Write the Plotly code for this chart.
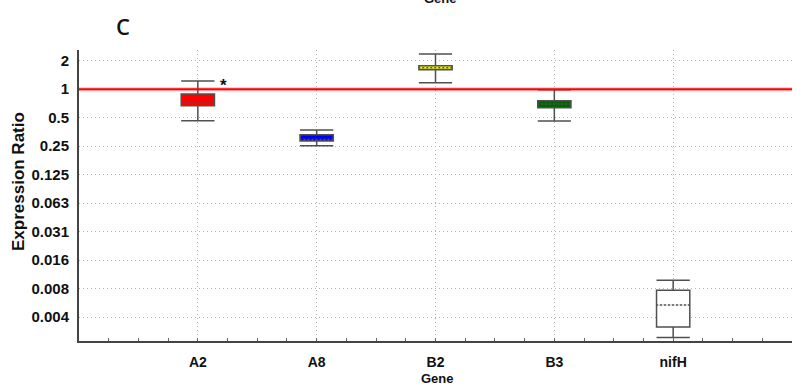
import math
import plotly.graph_objects as go

# Relative expression ratios per gene (box summary statistics)
genes = ["A2", "A8", "B2", "B3", "nifH"]
lower_whisker = [0.464, 0.252, 1.172, 0.461, 0.00237]
q1_values = [0.669, 0.283, 1.609, 0.637, 0.00306]
median_values = [0.709, 0.295, 1.689, 0.697, 0.00524]
q3_values = [0.889, 0.330, 1.773, 0.756, 0.00749]
upper_whisker = [1.221, 0.370, 2.360, 0.990, 0.00957]
box_colors = ["#ff0000", "#0000ff", "#ffff00", "#006400", "#ffffff"]

# Log2-spaced y ticks
y_tick_values = [2, 1, 0.5, 0.25, 0.125, 0.0625, 0.03125, 0.015625, 0.0078125, 0.00390625]
y_tick_labels = ["2", "1", "0.5", "0.25", "0.125", "0.063", "0.031", "0.016", "0.008", "0.004"]
reference_ratio = 1.0
significant = ["A2"]

FONT = "Liberation Sans, Arial, sans-serif"
BOX_W = 0.28
PLOT_L, PLOT_T, PLOT_W, PLOT_H = 79, 50, 713, 291


def paper_x(px):
    return (px - PLOT_L) / PLOT_W


def paper_y(py):
    return (PLOT_T + PLOT_H - py) / PLOT_H


fig = go.Figure()

for i, g in enumerate(genes):
    fig.add_trace(go.Box(
        x=[i], q1=[q1_values[i]], median=[median_values[i]], q3=[q3_values[i]],
        lowerfence=[lower_whisker[i]], upperfence=[upper_whisker[i]],
        fillcolor=box_colors[i], line=dict(color="#505050", width=1.5),
        width=BOX_W, whiskerwidth=1, boxpoints=False, name=g, showlegend=False,
        hoverinfo="skip",
    ))
    # break the median into a dotted line by masking alternate segments with the fill colour
    fig.add_trace(go.Scatter(
        x=[i - BOX_W / 2 + 0.012, i + BOX_W / 2 - 0.012],
        y=[median_values[i], median_values[i]], mode="lines",
        line=dict(color=box_colors[i], width=1.6, dash="2px,2px"),
        showlegend=False, hoverinfo="skip",
    ))

# reference line at ratio = 1
fig.add_trace(go.Scatter(x=[-1, 5], y=[reference_ratio, reference_ratio], mode="lines",
                         line=dict(color="rgba(255,0,0,0.2)", width=4.5),
                         showlegend=False, hoverinfo="skip"))
fig.add_trace(go.Scatter(x=[-1, 5], y=[reference_ratio, reference_ratio], mode="lines",
                         line=dict(color="#ff0000", width=2),
                         showlegend=False, hoverinfo="skip"))

# significance markers
for g in significant:
    i = genes.index(g)
    fig.add_annotation(x=i, y=math.log10(upper_whisker[i]), text="*", showarrow=False,
                       xshift=26, yshift=-4, font=dict(family=FONT, size=17, color="#111",
                                                       weight="bold"))

fig.add_annotation(xref="paper", yref="paper", x=paper_x(114), y=paper_y(25.5),
                   xanchor="left", yanchor="middle", text="C", showarrow=False,
                   font=dict(family="Open Sans, DejaVu Sans, sans-serif", size=22, color="#111",
                             weight=600))
# axis title of the panel above, partly cut by the top edge
fig.add_annotation(xref="paper", yref="paper", x=paper_x(440), y=paper_y(7.5),
                   xanchor="center", yanchor="bottom", text="Gene", showarrow=False,
                   font=dict(family=FONT, size=13, color="#111", weight="bold"))
fig.add_annotation(xref="paper", yref="paper", x=paper_x(18), y=paper_y(182),
                   xanchor="center", yanchor="middle", text="Expression Ratio", textangle=-90,
                   showarrow=False, font=dict(family=FONT, size=17, color="#111", weight="bold"))
fig.add_annotation(xref="paper", yref="paper", x=paper_x(437), y=paper_y(378),
                   xanchor="center", yanchor="middle", text="Gene", showarrow=False,
                   font=dict(family=FONT, size=13, color="#111", weight="bold"))

fig.update_xaxes(
    range=[-1, 5], tickvals=list(range(len(genes))), ticktext=genes,
    showline=True, linecolor="#444", linewidth=2, mirror=False,
    ticks="inside", ticklen=3, tickcolor="#666", ticklabelstandoff=7,
    showgrid=True, gridcolor="#b4b4b4", griddash="1px,3px", gridwidth=1,
    minor=dict(dtick=0.25, tick0=0, ticks="inside", ticklen=3, tickcolor="#666", showgrid=False),
    zeroline=False, tickfont=dict(family=FONT, size=14, color="#111", weight="bold"),
)
fig.update_yaxes(
    type="log", range=[math.log10(2 ** -8.843), math.log10(2 ** 1.378)],
    tickvals=y_tick_values, ticktext=y_tick_labels,
    showline=True, linecolor="#444", linewidth=2,
    ticks="", ticklabelstandoff=5,
    showgrid=True, gridcolor="#b4b4b4", griddash="1px,3px", gridwidth=1,
    zeroline=False, tickfont=dict(family=FONT, size=15, color="#111", weight="bold"),
)

fig.update_layout(
    width=802, height=389, margin=dict(l=PLOT_L, r=802 - PLOT_L - PLOT_W, t=PLOT_T, b=389 - PLOT_T - PLOT_H),
    paper_bgcolor="white", plot_bgcolor="white", showlegend=False,
)

fig.write_html("out.html")
